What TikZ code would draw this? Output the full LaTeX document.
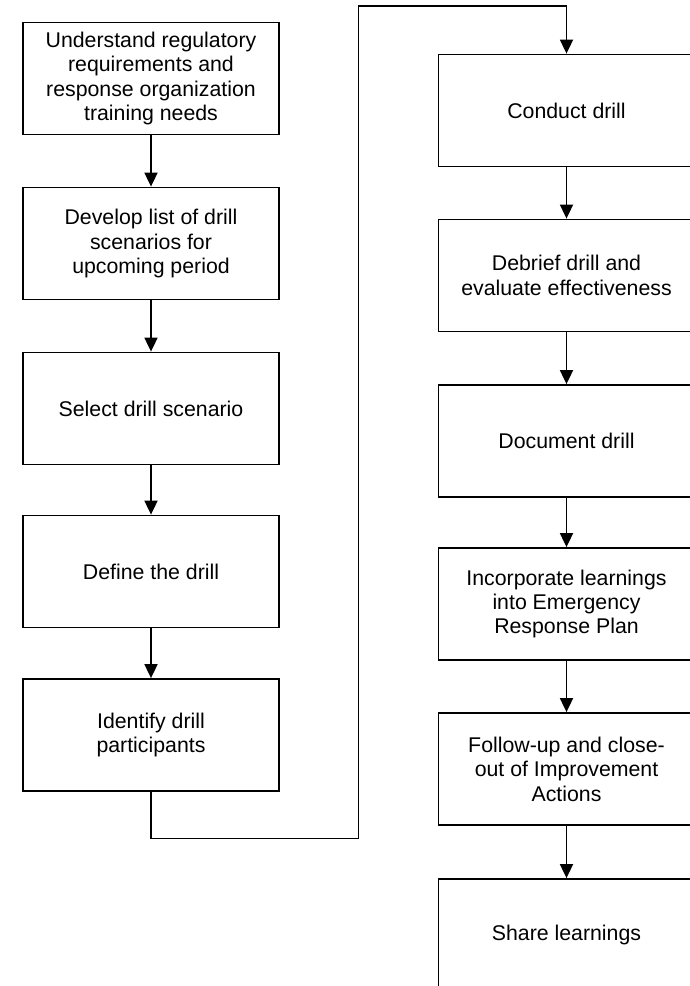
\documentclass[tikz,border=0pt]{standalone}
\usepackage{fontspec}
\setmainfont{Liberation Sans}
\usetikzlibrary{arrows.meta}
\begin{document}
\begin{tikzpicture}[x=1pt,y=-1pt,
  stepbox/.style={draw, line width=1.8pt, minimum width=256pt, minimum height=112pt,
    align=center, inner sep=0pt, font=\fontsize{21.3}{24.4}\selectfont},
  flow/.style={line width=1.8pt, -{Triangle[length=14pt,width=13pt]}},
  link/.style={line width=1.8pt}]
  \useasboundingbox (0,0) rectangle (689,986);

  % left column
  \node[stepbox] (s1) at (151,78.5) {Understand regulatory\\requirements and\\response organization\\training needs};
  \node[stepbox] (s2) at (151,243.5) {Develop list of drill\\scenarios for\\upcoming period};
  \node[stepbox] (s3) at (151,408.5) {Select drill scenario};
  \node[stepbox] (s4) at (151,571.5) {Define the drill};
  \node[stepbox] (s5) at (151,735) {Identify drill\\participants};

  % right column
  \node[stepbox] (s6) at (566.5,110.5) {Conduct drill};
  \node[stepbox] (s7) at (566.5,275.5) {Debrief drill and\\evaluate effectiveness};
  \node[stepbox] (s8) at (566.5,441) {Document drill};
  \node[stepbox] (s9) at (566.5,604) {Incorporate learnings\\into Emergency\\Response Plan};
  \node[stepbox] (s10) at (566.5,769) {Follow-up and close-\\out of Improvement\\Actions};
  \node[stepbox] (s11) at (566.5,935) {Share learnings};

  \draw[flow] (s1) -- (s2);
  \draw[flow] (s2) -- (s3);
  \draw[flow] (s3) -- (s4);
  \draw[flow] (s4) -- (s5);

  % route from the left column over to the top of the right column
  \coordinate (b1) at (151,838.5);
  \coordinate (b2) at (358.5,838.5);
  \coordinate (b3) at (358.5,6);
  \coordinate (b4) at (566.5,6);
  \draw[link, line join=miter] (s5.south) -- (b1) -- (b2) -- (b3) -- (b4);
  \draw[flow] (b4) -- (s6.north);

  \draw[flow] (s6) -- (s7);
  \draw[flow] (s7) -- (s8);
  \draw[flow] (s8) -- (s9);
  \draw[flow] (s9) -- (s10);
  \draw[flow] (s10) -- (s11);
\end{tikzpicture}
\end{document}
